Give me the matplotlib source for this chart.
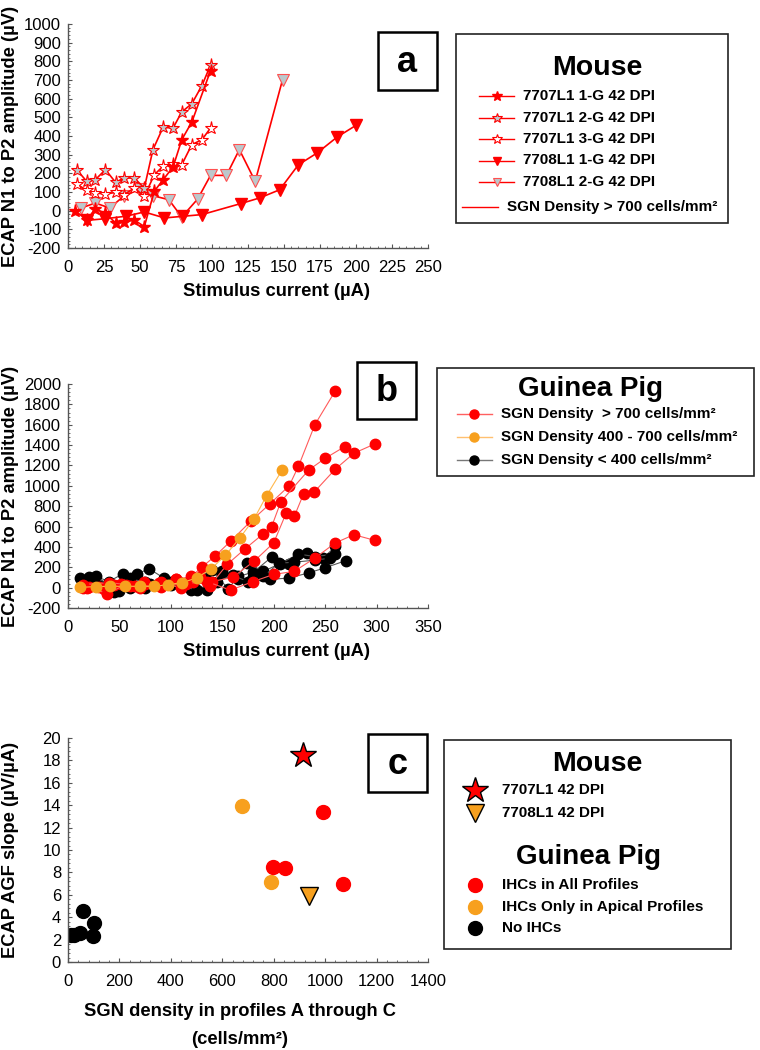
import numpy as np
import matplotlib
matplotlib.use("Agg")
import matplotlib.pyplot as plt
from matplotlib.lines import Line2D
from matplotlib.patches import Rectangle
from matplotlib.ticker import MultipleLocator, AutoMinorLocator

plt.rcParams['font.family'] = ['Liberation Sans', 'DejaVu Sans']
plt.rcParams['axes.unicode_minus'] = False

# ---- panel a: mouse ECAP growth functions ----
a_x_1g = [5, 13, 19, 26, 33, 39, 46, 53, 60, 66, 73, 79, 86, 99]
a_y_1g = [0, -50, 10, -15, -65, -60, -50, -85, 105, 165, 235, 380, 475, 750]
a_x_2g = [6, 13, 19, 26, 33, 39, 46, 53, 59, 66, 73, 79, 86, 93, 99]
a_y_2g = [220, 157, 166, 220, 152, 175, 175, 121, 327, 446, 443, 529, 573, 670, 780]
a_x_3g = [6, 13, 19, 26, 33, 39, 46, 53, 60, 66, 73, 79, 86, 93, 99]
a_y_3g = [143, 109, 95, 89, 98, 86, 121, 77, 193, 238, 252, 246, 354, 380, 443]
a_x_81 = [13, 26, 40, 53, 67, 80, 93, 120, 133, 147, 160, 173, 187, 200]
a_y_81 = [-52, -43, -30, -7, -39, -30, -21, 38, 68, 112, 246, 309, 395, 457]
a_x_82 = [9, 19, 29, 39, 50, 59, 70, 79, 90, 99, 110, 119, 130, 149]
a_y_82 = [14, 41, 14, 80, 116, 80, 59, -34, 62, 189, 189, 327, 157, 702]
a_labels = ["7707L1 1-G 42 DPI", "7707L1 2-G 42 DPI", "7707L1 3-G 42 DPI",
            "7708L1 1-G 42 DPI", "7708L1 2-G 42 DPI"]

# ---- panel b: guinea pig ECAP growth functions ----
b_red = [
    ([15, 30, 45, 60, 75, 90, 105, 120, 130, 143, 158, 178, 196, 215, 224, 240, 260],
     [0, 10, 30, 20, 40, 60, 80, 110, 200, 310, 455, 655, 820, 1000, 1190, 1600, 1935]),
    ([18, 35, 52, 70, 88, 105, 122, 138, 155, 172, 190, 198, 207, 234, 250, 269],
     [0, -10, 40, 0, 50, 80, 60, 20, 230, 380, 530, 600, 845, 1155, 1270, 1385]),
    ([20, 38, 56, 74, 92, 110, 128, 140, 160, 181, 200, 212, 220, 229, 239, 260, 278, 298],
     [10, -60, 30, 60, 40, 0, 100, 60, 100, 260, 440, 730, 700, 920, 935, 1165, 1320, 1410]),
    ([15, 40, 65, 90, 115, 135, 158, 180, 200, 220, 240, 260, 278, 298],
     [30, 50, 20, 10, 40, 60, -25, 60, 130, 160, 290, 440, 520, 465]),
]
b_orange = [
    ([12, 27, 41, 55, 70, 84, 97, 111, 125, 139, 153, 167, 181, 193, 208],
     [3, 10, 13, 13, 13, 13, 29, 49, 95, 183, 317, 487, 677, 903, 1152]),
]
b_black = [
    ([12, 27, 40, 53, 67, 79, 93, 108, 122, 136, 150, 165, 180, 198, 215, 232, 248, 260],
     [95, 110, 60, 135, 135, 185, 95, 60, 40, 160, 160, 110, 150, 300, 230, 340, 290, 405]),
    ([15, 30, 45, 60, 75, 90, 105, 120, 135, 150, 165, 180, 196, 215, 234, 250, 270],
     [60, 30, -40, 0, 60, 20, 50, -20, -20, 140, 80, 100, 80, 95, 145, 195, 265]),
    ([20, 40, 60, 80, 100, 120, 140, 156, 174, 190, 206, 224, 240, 260],
     [100, 50, 90, 40, 60, 80, 170, -15, 240, 160, 235, 330, 305, 330]),
    ([25, 50, 75, 100, 125, 145, 160, 175, 190, 205, 220, 240, 255],
     [70, -30, 0, 30, -20, 60, 120, 60, 110, 240, 250, 270, 290]),
]
b_labels = ["SGN Density  > 700 cells/mm\u00b2", "SGN Density 400 - 700 cells/mm\u00b2",
            "SGN Density < 400 cells/mm\u00b2"]

# ---- panel c: AGF slope vs SGN density ----
c_all_x = [796, 843, 992, 1069]
c_all_y = [8.5, 8.4, 13.4, 7.0]
c_apical_x = [675, 789]
c_apical_y = [13.95, 7.1]
c_none_x = [10, 25, 45, 58, 100, 97]
c_none_y = [2.4, 2.45, 2.6, 4.55, 3.45, 2.3]
c_mouse7707 = ([914], [18.5])
c_mouse7708 = ([936], [5.9])
c_labels = ["IHCs in All Profiles", "IHCs Only in Apical Profiles", "No IHCs"]

RED = '#ff0000'
ORANGE = '#f7a01e'
GRAYFILL = '#bcc8cc'
SPINE = '#555555'
LABFS = 13.2

W, H = 760, 1050
fig = plt.figure(figsize=(W / 100, H / 100), dpi=100)


def make_ax(top, bottom):
    ax = fig.add_axes([68 / W, 1 - bottom / H, 360 / W, (bottom - top) / H])
    for s in ['top', 'right']:
        ax.spines[s].set_visible(False)
    for s in ['left', 'bottom']:
        ax.spines[s].set_color(SPINE)
        ax.spines[s].set_linewidth(1.0)
    ax.tick_params(which='major', direction='in', length=3, width=0.8,
                   color=SPINE, labelsize=12)
    ax.tick_params(axis='x', which='major', pad=9)
    ax.tick_params(axis='y', which='major', pad=5)
    ax.tick_params(which='minor', direction='in', length=1.5, width=0.6, color=SPINE)
    ax.xaxis.set_minor_locator(AutoMinorLocator(5))
    ax.yaxis.set_minor_locator(AutoMinorLocator(5))
    return ax


# panel a
ax1 = make_ax(24, 248)
lk = dict(color=RED, lw=1.2)
ax1.plot(a_x_82, a_y_82, marker='v', ms=8, mfc=GRAYFILL, mec='#ff5050', mew=0.8, **lk)
ax1.plot(a_x_81, a_y_81, marker='v', ms=8, mfc=RED, mec=RED, **lk)
ax1.plot(a_x_3g, a_y_3g, marker='*', ms=9.5, mfc='white', mec=RED, mew=0.8, **lk)
ax1.plot(a_x_2g, a_y_2g, marker='*', ms=9.5, mfc=GRAYFILL, mec=RED, mew=0.8, **lk)
ax1.plot(a_x_1g, a_y_1g, marker='*', ms=9.5, mfc=RED, mec=RED, **lk)
ax1.set_xlim(0, 250)
ax1.set_ylim(-200, 1000)
ax1.xaxis.set_major_locator(MultipleLocator(25))
ax1.yaxis.set_major_locator(MultipleLocator(100))
ax1.set_ylabel("ECAP N1 to P2 amplitude (\u00b5V)", fontsize=LABFS, fontweight='bold')
ax1.yaxis.set_label_coords(-0.136, 0.5)
ax1.set_xlabel("Stimulus current (\u00b5A)", fontsize=LABFS, fontweight='bold')
ax1.xaxis.set_label_coords(0.578, -0.155)

# panel b
ax2 = make_ax(384, 608)
for xs, ys in b_black:
    ax2.plot(xs, ys, color='#555555', lw=0.8, marker='o', ms=7.5, mfc='black', mec='black')
for xs, ys in b_red:
    ax2.plot(xs, ys, color='#ff5a5a', lw=0.8, marker='o', ms=7.5, mfc=RED, mec=RED)
for xs, ys in b_orange:
    ax2.plot(xs, ys, color='#ffb84d', lw=0.8, marker='o', ms=7.5, mfc=ORANGE, mec=ORANGE)
ax2.set_xlim(0, 350)
ax2.set_ylim(-200, 2000)
ax2.xaxis.set_major_locator(MultipleLocator(50))
ax2.yaxis.set_major_locator(MultipleLocator(200))
ax2.set_ylabel("ECAP N1 to P2 amplitude (\u00b5V)", fontsize=LABFS, fontweight='bold')
ax2.yaxis.set_label_coords(-0.136, 0.5)
ax2.set_xlabel("Stimulus current (\u00b5A)", fontsize=LABFS, fontweight='bold')
ax2.xaxis.set_label_coords(0.578, -0.155)

# panel c
ax3 = make_ax(738, 962)
ax3.plot(c_none_x, c_none_y, 'o', ms=10, color='black')
ax3.plot(c_apical_x, c_apical_y, 'o', ms=10, color=ORANGE)
ax3.plot(c_all_x, c_all_y, 'o', ms=10, color=RED)
ax3.plot(*c_mouse7707, marker='*', ls='none', ms=19, mfc=RED, mec='black', mew=1.0)
ax3.plot(*c_mouse7708, marker='v', ls='none', ms=13, mfc=ORANGE, mec='black', mew=1.0)
ax3.set_xlim(0, 1400)
ax3.set_ylim(0, 20)
ax3.xaxis.set_major_locator(MultipleLocator(200))
ax3.yaxis.set_major_locator(MultipleLocator(2))
ax3.set_ylabel("ECAP AGF slope (\u00b5V/\u00b5A)", fontsize=LABFS, fontweight='bold')
ax3.yaxis.set_label_coords(-0.136, 0.5)
ax3.set_xlabel("SGN density in profiles A through C\n(cells/mm\u00b2)", fontsize=LABFS,
               fontweight='bold', linespacing=1.85)
ax3.xaxis.set_label_coords(0.478, -0.185)

# overlay for legends and panel letters (pixel coords)
ov = fig.add_axes([0, 0, 1, 1], zorder=10)
ov.set_xlim(0, W)
ov.set_ylim(H, 0)
ov.axis('off')
ov.patch.set_alpha(0)


def box(x0, y0, x1, y1, lw):
    ov.add_patch(Rectangle((x0, y0), x1 - x0, y1 - y0, fill=False, ec='#222222', lw=lw))


def letter(x0, y0, x1, y1, t):
    ov.add_patch(Rectangle((x0, y0), x1 - x0, y1 - y0, fc='white', ec='black', lw=1.8))
    ov.text((x0 + x1) / 2, (y0 + y1) / 2 + 1, t, ha='center', va='center',
            fontsize=26, fontweight='bold')


letter(378, 32, 437, 90, 'a')
letter(357, 362, 416, 419, 'b')
letter(368, 734, 427, 792, 'c')

# legend a
box(456, 34, 728, 223, 1.2)
ov.text(597, 68, "Mouse", ha='center', va='center', fontsize=20.5, fontweight='bold')
a_styles = [dict(marker='*', ms=7, mfc=RED, mec=RED),
            dict(marker='*', ms=7, mfc=GRAYFILL, mec=RED, mew=0.8),
            dict(marker='*', ms=7, mfc='white', mec=RED, mew=0.8),
            dict(marker='v', ms=6, mfc=RED, mec=RED),
            dict(marker='v', ms=6, mfc=GRAYFILL, mec='#ff5050', mew=0.8)]
for i, (lab, st) in enumerate(zip(a_labels, a_styles)):
    yy = 96 + i * 21.5
    ov.add_line(Line2D([479, 496.5, 514], [yy, yy, yy], color=RED, lw=1.0,
                       markevery=[1], **st))
    ov.text(523, yy, lab, va='center', fontsize=11, fontweight='bold')
ov.add_line(Line2D([462, 498], [207, 207], color=RED, lw=1.0))
ov.text(507, 207, "SGN Density > 700 cells/mm\u00b2", va='center', fontsize=11,
        fontweight='bold')

# legend b
box(437, 368, 754, 476, 1.2)
ov.text(590, 389, "Guinea Pig", ha='center', va='center', fontsize=20, fontweight='bold')
b_cols = [('#ff6060', RED), ('#ffc070', ORANGE), ('#777777', 'black')]
for i, (lab, (lc, mc)) in enumerate(zip(b_labels, b_cols)):
    yy = 414 + i * 23
    ov.add_line(Line2D([457, 474, 492], [yy, yy, yy], color=lc, lw=1.0, marker='o',
                       markevery=[1], ms=6.5, mfc=mc, mec=mc))
    ov.text(501, yy, lab, va='center', fontsize=11, fontweight='bold')

# legend c
box(444, 740, 731, 949, 1.2)
ov.text(597, 764, "Mouse", ha='center', va='center', fontsize=20.5, fontweight='bold')
ov.plot([475], [790], marker='*', ms=19, mfc=RED, mec='black', mew=1.0, ls='none')
ov.text(502, 790, "7707L1 42 DPI", va='center', fontsize=11, fontweight='bold')
ov.plot([475], [813], marker='v', ms=13, mfc=ORANGE, mec='black', mew=1.0, ls='none')
ov.text(502, 813, "7708L1 42 DPI", va='center', fontsize=11, fontweight='bold')
ov.text(589, 857, "Guinea Pig", ha='center', va='center', fontsize=20, fontweight='bold')
for i, (lab, col) in enumerate(zip(c_labels, [RED, ORANGE, 'black'])):
    yy = 885 + i * 21.5
    ov.plot([475], [yy], 'o', ms=10, color=col)
    ov.text(502, yy, lab, va='center', fontsize=11, fontweight='bold')

fig.savefig("out.png", dpi=100, facecolor='white')
